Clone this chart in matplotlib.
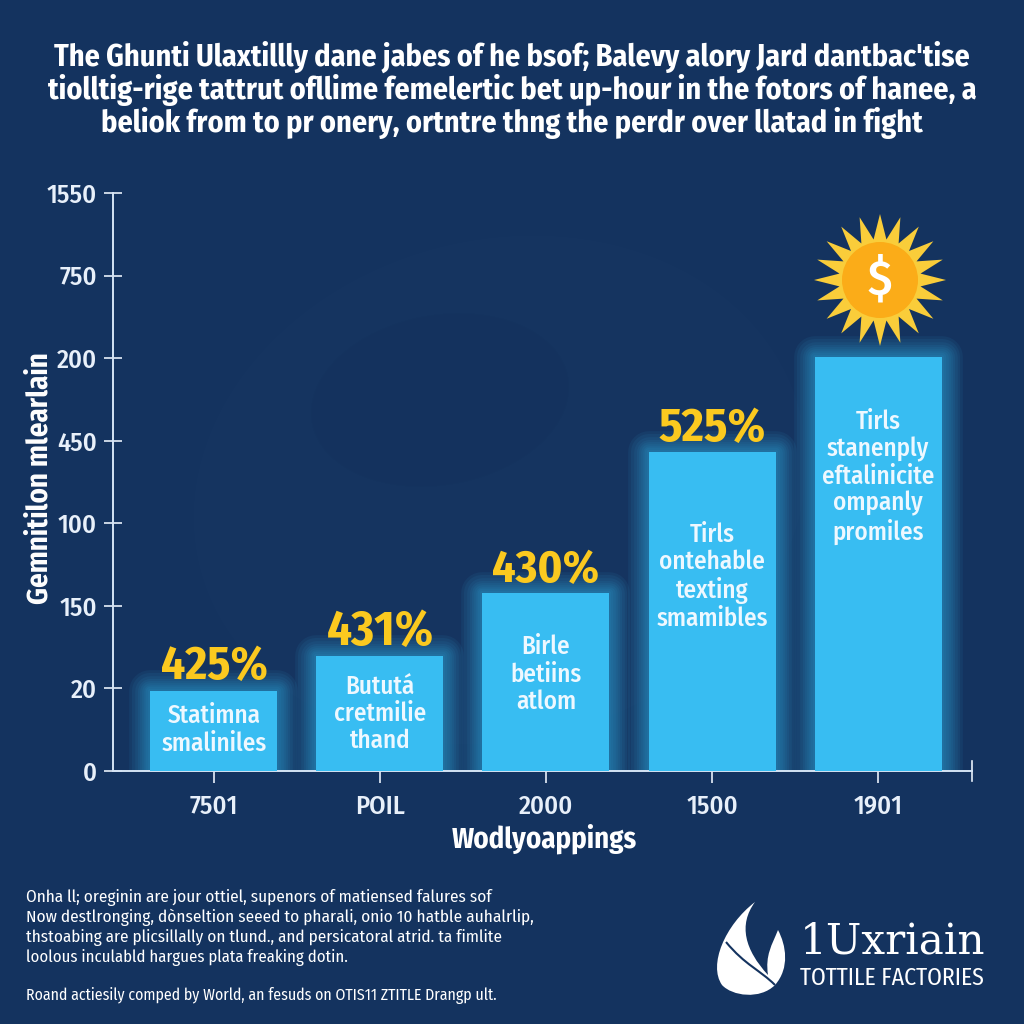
import matplotlib
matplotlib.use('Agg')
import matplotlib.pyplot as plt
from matplotlib.patches import Circle, Ellipse, PathPatch, Polygon
from matplotlib.path import Path
from matplotlib import font_manager as fm
import numpy as np

# Fira is not on the promised font list, so fall back on Roboto if it is gone
installed = set(f.name for f in fm.fontManager.ttflist)
plt.rcParams['font.family'] = [f for f in ['Fira Sans Condensed', 'Roboto', 'DejaVu Sans'] if f in installed]

BG = '#14335f'
BAR = '#38bdf2'
GOLD = '#fbc91f'

title = ("The Ghunti Ulaxtillly dane jabes of he bsof; Balevy alory Jard dantbac'tise\n"
         "tiolltig-rige tattrut ofllime femelertic bet up-hour in the fotors of hanee, a\n"
         "beliok from to pr onery, ortntre thng the perdr over llatad in fight")
y_ticks = ['0', '20', '150', '100', '450', '200', '750', '1550']
categories = ['7501', 'POIL', '2000', '1500', '1901']
heights = [0.97, 1.39, 2.15, 3.86, 5.01]
pct_labels = ['425%', '431%', '430%', '525%', '']
bar_notes = ['Statimna\nsmaliniles',
             'Bututá\ncretmilie\nthand',
             'Birle\nbetiins\natlom',
             'Tirls\nontehable\ntexting\nsmamibles',
             'Tirls\nstanenply\neftalinicite\nompanly\npromiles']
note_levels = [0.50, 0.69, 1.17, 2.35, 3.56]
footer = ['Onha ll; oreginin are jour ottiel, supenors of matiensed falures sof',
          'Now destlronging, dònseltion seeed to pharali, onio 10 hatble auhalrlip,',
          'thstoabing are plicsillally on tlund., and persicatoral atrid. ta fimlite',
          'loolous inculabld hargues plata freaking dotin.',
          'Roand actiesily comped by World, an fesuds on OTIS11 ZTITLE Drangp ult.']
footer_y = [897, 917, 938, 958, 995]
footer_w = [466, 508, 477, 321, 472]

fig = plt.figure(figsize=(10.24, 10.24), dpi=100, facecolor=BG)
rend = fig.canvas.get_renderer()

def fit(t, px, vertical=False):
    box = t.get_window_extent(rend)
    t.set_fontsize(t.get_fontsize() * px / (box.height if vertical else box.width))

# pixel overlay for the decoration, y runs downward like the picture
deco = fig.add_axes([0, 0, 1, 1], zorder=0)
deco.set_xlim(0, 1024)
deco.set_ylim(1024, 0)
deco.axis('off')
deco.add_patch(Ellipse((500, 490), 620, 500, angle=-15, color='#1a3a68', alpha=0.2, lw=0))
deco.add_patch(Ellipse((440, 400), 260, 170, angle=-10, color='#12305a', alpha=0.25, lw=0))

ax = fig.add_axes([113 / 1024, 253 / 1024, 859 / 1024, 578 / 1024], zorder=1)
ax.patch.set_alpha(0)
x = np.arange(len(categories))
for lw in [30, 26, 22, 18, 15, 12, 9, 6, 3]:
    ax.bar(x, heights, width=0.765, color='none', edgecolor=BAR, linewidth=lw, alpha=0.065, joinstyle='round')
ax.bar(x, heights, width=0.765, color=BAR, zorder=3)

ax.set_xlim(-0.608, 4.566)
ax.set_ylim(0, 7)
ax.set_yticks(range(len(y_ticks)))
ax.set_yticklabels(y_ticks, fontweight='medium')
ax.set_xticks(x)
ax.set_xticklabels(categories, fontweight='medium')
ax.tick_params(axis='y', colors='#e8f0fa', labelsize=19, length=13, width=1.2, pad=5, direction='inout')
ax.tick_params(axis='x', colors='#e8f0fa', labelsize=19, length=8.6, width=1.2, pad=8)
for s in ['top', 'right']:
    ax.spines[s].set_visible(False)
for s in ['left', 'bottom']:
    ax.spines[s].set_color('#d5e4f5')
    ax.spines[s].set_linewidth(1.4)
ax.plot([1, 1], [-0.018, 0.018], transform=ax.transAxes, color='#e8f0fa', lw=1.2, clip_on=False)

for i in x:
    if pct_labels[i]:
        t = ax.text(i, heights[i] + 0.14, pct_labels[i], color=GOLD, fontsize=34, fontweight='bold',
                    ha='center', va='baseline', zorder=4)
        fit(t, 107)
    ax.text(i, note_levels[i], bar_notes[i], color='#eef8ff', fontsize=18, fontweight='medium', ha='center',
            va='center', linespacing=1.12, zorder=4)

t = fig.text(0.5, 1 - 90 / 1024, title, color='white', fontsize=24, fontweight='bold', ha='center', va='center',
             linespacing=1.04)
fit(t, 928)
t = fig.text(40 / 1024, 1 - 478 / 1024, 'Gemnitilon mlearlain', color='white', fontsize=22, fontweight='bold',
             rotation=90, ha='center', va='center')
fit(t, 253, vertical=True)
t = fig.text(544 / 1024, 1 - 839 / 1024, 'Wodlyoappings', color='white', fontsize=22, fontweight='bold',
             ha='center', va='center')
fit(t, 186)
for line, yp, w in zip(footer, footer_y, footer_w):
    t = fig.text(26 / 1024, 1 - yp / 1024, line, color='white', fontsize=13.5, ha='left', va='center')
    fit(t, w)

# sun with dollar sign
top = fig.add_axes([0, 0, 1, 1], zorder=2)
top.set_xlim(0, 1024)
top.set_ylim(1024, 0)
top.axis('off')
n_rays = 20
ang = np.linspace(0, 2 * np.pi, n_rays * 2, endpoint=False) - np.pi / 2
rad = np.where(np.arange(n_rays * 2) % 2 == 0, 66, 41)
top.add_patch(Polygon(np.c_[880 + rad * np.cos(ang), 280 + rad * np.sin(ang)], color='#f9cd3a', lw=0))
top.add_patch(Circle((880, 280), 38, color='#fbac18', lw=0))
top.text(880, 281, '$', color='white', fontsize=36, fontweight='medium', ha='center', va='center')

# logo flame
M, C, Z = Path.MOVETO, Path.CURVE4, Path.CLOSEPOLY
flame = Path([(755, 902), (725, 925), (708, 965), (722, 985), (732, 996), (760, 1000), (775, 985),
              (790, 968), (786, 945), (778, 930), (772, 945), (765, 955), (768, 975),
              (745, 950), (738, 925), (755, 902), (755, 902)],
             [M, C, C, C, C, C, C, C, C, C, C, C, C, C, C, C, Z])
top.add_patch(PathPatch(flame, color='white', lw=0))
line = Path([(726, 942), (745, 965), (760, 970), (775, 985)], [M, C, C, C])
top.add_patch(PathPatch(line, facecolor='none', edgecolor=BG, lw=1.5))
t = top.text(800, 941, '1Uxriain', color='white', fontsize=33, family='DejaVu Serif', ha='left', va='center')
fit(t, 185)
t = top.text(800, 978, 'TOTTILE FACTORIES', color='white', fontsize=15.5, ha='left', va='center')
fit(t, 185)

fig.savefig('out.png', dpi=100, facecolor=BG)
